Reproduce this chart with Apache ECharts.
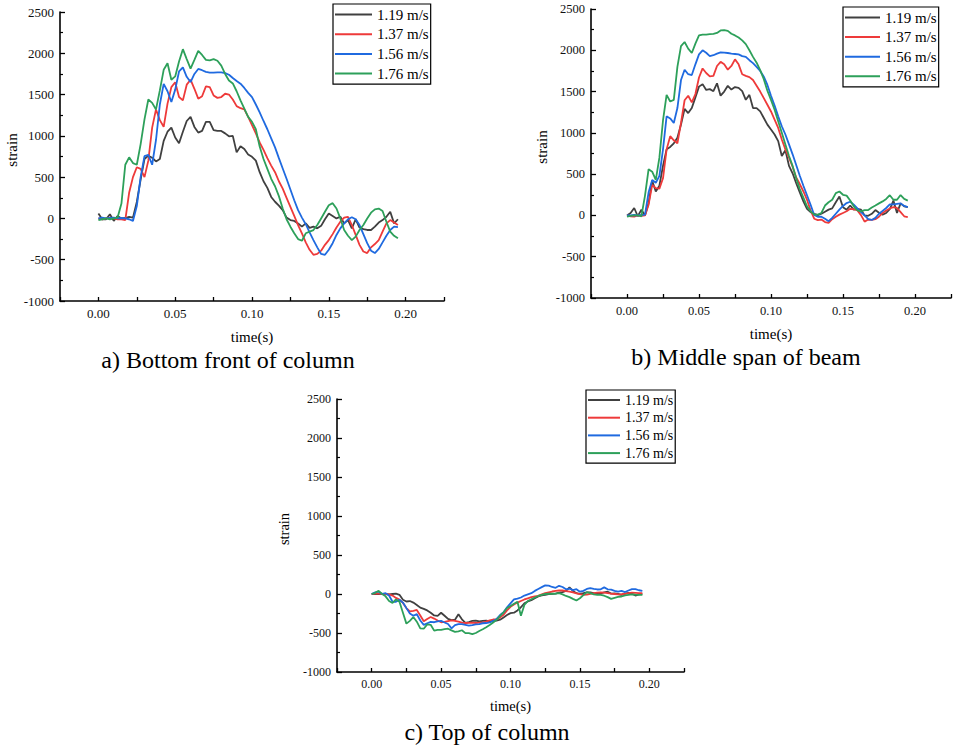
<!DOCTYPE html>
<html>
<head>
<meta charset="utf-8">
<title>strain curves</title>
<script src="https://cdn.jsdelivr.net/npm/echarts@6/dist/echarts.min.js"></script>
<style>
  html, body { margin: 0; padding: 0; background: #fff; }
  #main { width: 954px; height: 746px; }
</style>
</head>
<body>
<div id="main"></div>
<script>
// time (s), shared by every curve
const time = [0, 0.0025, 0.005, 0.0075, 0.01, 0.0125, 0.015, 0.0175, 0.02, 0.0225,
  0.025, 0.0275, 0.03, 0.0325, 0.035, 0.0375, 0.04, 0.0425, 0.045, 0.0475,
  0.05, 0.0525, 0.055, 0.0575, 0.06, 0.0625, 0.065, 0.0675, 0.07, 0.0725,
  0.075, 0.0775, 0.08, 0.0825, 0.085, 0.0875, 0.09, 0.0925, 0.095, 0.0975,
  0.1, 0.1025, 0.105, 0.1075, 0.11, 0.1125, 0.115, 0.1175, 0.12, 0.1225,
  0.125, 0.1275, 0.13, 0.1325, 0.135, 0.1375, 0.14, 0.1425, 0.145, 0.1475,
  0.15, 0.1525, 0.155, 0.1575, 0.16, 0.1625, 0.165, 0.1675, 0.17, 0.1725,
  0.175, 0.1775, 0.18, 0.1825, 0.185, 0.1875, 0.19, 0.1925, 0.195]

const speeds = ['1.19 m/s', '1.37 m/s', '1.56 m/s', '1.76 m/s']

// a) bottom front of column
const a119 = [60, -10, -10, 50, -30, 30, 0, 5, 20, 10,
  200, 470, 720, 760, 735, 690, 720, 940, 1050, 1100,
  980, 910, 1050, 1180, 1230, 1108, 1040, 1060, 1170, 1170,
  1070, 1060, 1060, 1030, 995, 1000, 800, 875, 840, 775,
  746, 700, 560, 450, 370, 260, 202, 155, 100, 10,
  -20, -30, -60, -100, -60, -115, -100, -120, -90, -10,
  60, 30, 0, 20, -60, -20, -120, -10, -110, -130,
  -140, -140, -100, -50, -20, 20, 80, -60, -10]
const a137 = [0, -10, 0, 10, 0, -10, -10, -20, 310, 500,
  620, 600, 500, 700, 1100, 1320, 1190, 1110, 1390, 1590,
  1650, 1470, 1430, 1620, 1680, 1570, 1450, 1480, 1600, 1590,
  1490, 1460, 1470, 1510, 1500, 1440, 1360, 1335, 1320, 1230,
  1130, 1030, 920, 830, 730, 640, 560, 450, 360, 250,
  140, 30, -80, -180, -290, -380, -440, -430, -390, -320,
  -262, -190, -110, -40, 10, 20, -80, -200, -320, -400,
  -420, -350, -310, -262, -160, -60, -20, -50, -80]
const a156 = [0, 10, 0, 5, 10, 0, 5, 0, -10, -30,
  150, 500, 754, 770, 650, 950, 1380, 1630, 1540, 1410,
  1560, 1780, 1830, 1715, 1652, 1750, 1810, 1795, 1775, 1765,
  1765, 1770, 1770, 1760, 1740, 1700, 1665, 1632, 1580, 1520,
  1470, 1380, 1285, 1180, 1080, 970, 860, 730, 605, 480,
  350, 220, 100, 10, -70, -170, -262, -350, -430, -440,
  -380, -300, -200, -120, -60, -10, 15, -10, -80, -190,
  -300, -390, -420, -370, -290, -210, -140, -100, -105]
const a176 = [-20, -10, 0, -10, 0, 10, 180, 650, 740, 670,
  650, 900, 1200, 1440, 1400, 1320, 1550, 1800, 1880, 1680,
  1720, 1900, 2050, 1930, 1815, 1920, 2030, 1980, 1920, 1915,
  1930, 1910, 1850, 1750, 1670, 1635, 1540, 1430, 1330, 1230,
  1170, 1080, 870, 720, 600, 480, 390, 270, 120, -10,
  -100, -180, -250, -270, -180, -160, -141, -80, 0, 80,
  160, 185, 120, 0, -140, -210, -262, -220, -140, -80,
  0, 70, 110, 120, 90, -40, -160, -210, -240]

// b) middle span of beam
const b119 = [0, 30, 90, -10, 70, 0, 150, 420, 290, 360,
  600, 800, 830, 874, 940, 1100, 1290, 1240, 1300, 1430,
  1560, 1590, 1520, 1530, 1505, 1600, 1450, 1500, 1570, 1525,
  1555, 1545, 1505, 1400, 1460, 1300, 1300, 1260, 1180, 1100,
  1040, 980, 900, 720, 790, 600, 510, 390, 280, 170,
  80, 40, 20, 4, 20, 45, 70, 85, 160, 230,
  100, 70, 120, 70, 80, 70, 0, -5, 20, 65,
  32, 10, 30, 75, 180, 30, 146, 110, 100]
const b137 = [0, -10, -15, 0, -5, 0, 130, 370, 330, 325,
  450, 800, 960, 910, 874, 1120, 1395, 1450, 1370, 1470,
  1670, 1780, 1725, 1684, 1690, 1810, 1860, 1830, 1765, 1810,
  1890, 1830, 1710, 1690, 1675, 1640, 1570, 1500, 1420, 1340,
  1259, 1160, 1060, 920, 800, 700, 590, 460, 380, 290,
  190, 60, -40, -57, -50, -80, -90, -45, -16, 10,
  30, 50, 80, 75, 60, 4, -75, -50, -55, -45,
  -16, 30, 60, 85, 100, 90, 40, -10, -20]
const b156 = [0, 0, 5, 0, 5, 10, 280, 430, 395, 480,
  800, 1200, 1175, 1120, 1300, 1640, 1765, 1710, 1700, 1830,
  1950, 1999, 1970, 1930, 1940, 1960, 1975, 1972, 1967, 1960,
  1955, 1950, 1930, 1920, 1880, 1845, 1800, 1750, 1680, 1580,
  1450, 1330, 1200, 1080, 980, 860, 740, 610, 480, 360,
  245, 130, 5, -16, -16, -40, -70, -30, 20, 70,
  115, 150, 166, 130, 85, 40, 0, -45, -55, -30,
  20, 55, 90, 134, 134, 140, 146, 115, 100]
const b176 = [-15, -5, 0, 0, -10, 240, 560, 530, 430, 700,
  1150, 1460, 1380, 1400, 1800, 2050, 2100, 2020, 1967, 2080,
  2180, 2190, 2190, 2195, 2200, 2210, 2240, 2245, 2235, 2200,
  2180, 2155, 2120, 2075, 2000, 1920, 1850, 1760, 1650, 1510,
  1400, 1280, 1140, 1000, 860, 720, 600, 450, 320, 215,
  110, 50, 10, 10, 30, 120, 160, 190, 270, 290,
  250, 240, 180, 110, 60, 50, 65, 65, 95, 120,
  146, 170, 200, 245, 190, 190, 247, 200, 180]

// c) top of column
const c119 = [0, 0, 0, 0, 0, -5, 0, 5, -10, -74,
  -96, -90, -110, -140, -175, -190, -210, -240, -275, -280,
  -240, -279, -320, -335, -330, -260, -325, -370, -360, -345,
  -340, -350, -345, -340, -352, -345, -340, -330, -300, -270,
  -245, -240, -210, -170, -120, -95, -80, -53, -30, -18,
  -10, 0, 2, 5, 18, 25, 40, 85, 40, 11,
  3, 10, 20, 20, 10, 3, 8, 20, 30, 5,
  8, 0, -10, 5, 15, 3, -20, -5, 3]
const c137 = [0, 5, 5, 0, 0, -5, -20, -50, -72, -115,
  -181, -224, -215, -205, -275, -350, -320, -295, -315, -340,
  -362, -357, -348, -339, -345, -355, -366, -372, -370, -368,
  -372, -368, -363, -353, -338, -327, -322, -300, -265, -210,
  -165, -135, -110, -90, -70, -55, -40, -30, -23, -5,
  11, 22, 32, 40, 45, 45, 38, 30, 20, 8,
  -2, -10, -8, 3, 11, 18, 20, 18, 12, 5,
  0, -6, -3, 3, 10, 18, 15, 11, 11]
const c156 = [0, 20, 30, 0, 10, -20, -100, -100, -74, -110,
  -181, -250, -279, -258, -340, -395, -375, -358, -362, -350,
  -345, -365, -385, -440, -400, -385, -385, -395, -405, -400,
  -390, -385, -375, -372, -365, -345, -320, -270, -235, -170,
  -120, -70, -60, -45, -20, -5, 10, 40, 65, 88,
  110, 108, 90, 80, 105, 90, 60, 70, 50, 62,
  30, 40, 65, 75, 65, 58, 60, 85, 60, 55,
  40, 30, 40, 25, 45, 62, 62, 48, 40]
const c176 = [0, 15, 40, 0, -30, -90, -115, -70, -100, -240,
  -380, -345, -295, -355, -440, -445, -390, -395, -470, -460,
  -460, -450, -445, -467, -485, -480, -465, -502, -502, -515,
  -500, -475, -452, -425, -397, -365, -330, -280, -235, -180,
  -155, -125, -100, -280, -140, -90, -68, -45, -25, -10,
  0, 3, 3, 6, 10, -5, -25, -40, -62, -83,
  -55, -15, 25, 10, -5, -10, -12, -22, -40, -62,
  -50, -38, -32, -18, -10, -5, -8, -10, -10]

const colors = ['#404040', '#ee3a3a', '#1f6ae0', '#2da05a']
const serif = 'Liberation Serif, Times New Roman, serif'

// layout of the three panels
const panels = [
  {
    caption: 'a) Bottom front of column',
    values: [a119, a137, a156, a176],
    grid: { left: 60, top: 12, width: 384, height: 289 },
    tickSize: 13,
    nameSize: 15,
    xNameGap: 28,
    yNameGap: 40,
    legend: { left: 333, top: 4, fontSize: 15, itemWidth: 37, itemGap: 4.7 },
    captionPos: [228, 360]
  },
  {
    caption: 'b) Middle span of beam',
    values: [b119, b137, b156, b176],
    grid: { left: 591, top: 9, width: 361, height: 289 },
    tickSize: 12.5,
    nameSize: 15,
    xNameGap: 28,
    yNameGap: 42,
    legend: { left: 843, top: 7, fontSize: 15, itemWidth: 35, itemGap: 4.6 },
    captionPos: [746, 357]
  },
  {
    caption: 'c) Top of column',
    values: [c119, c137, c156, c176],
    grid: { left: 337, top: 399, width: 347, height: 273 },
    tickSize: 12,
    nameSize: 14.5,
    xNameGap: 26,
    yNameGap: 46,
    legend: { left: 586, top: 390, fontSize: 14, itemWidth: 32, itemGap: 3.7 },
    captionPos: [487, 732]
  }
]

// only 0.00, 0.05 ... 0.20 carry a label
function timeLabel (v) {
  const k = Math.round(v / 0.025)
  if (k % 2 !== 0 || k < 0 || k > 8) {
    return ''
  }
  return v.toFixed(2)
}

const option = {
  animation: false,
  backgroundColor: '#fff',
  grid: [],
  xAxis: [],
  yAxis: [],
  legend: [],
  series: [],
  graphic: []
}

panels.forEach((p, idx) => {
  option.grid.push(p.grid)
  option.xAxis.push({
    type: 'value',
    gridIndex: idx,
    min: -0.025,
    max: 0.225,
    interval: 0.025,
    name: 'time(s)',
    nameLocation: 'middle',
    nameGap: p.xNameGap,
    nameTextStyle: { fontFamily: serif, fontSize: p.nameSize, color: '#000' },
    axisLine: { onZero: false, lineStyle: { color: '#000', width: 1.6 } },
    axisTick: { inside: true, length: 4, lineStyle: { color: '#000', width: 1.3 } },
    axisLabel: {
      formatter: timeLabel,
      fontFamily: serif,
      fontSize: p.tickSize,
      color: '#111',
      margin: 6,
      hideOverlap: false
    },
    splitLine: { show: false }
  })
  option.yAxis.push({
    type: 'value',
    gridIndex: idx,
    min: -1000,
    max: 2500,
    interval: 500,
    name: 'strain',
    nameLocation: 'middle',
    nameGap: p.yNameGap,
    nameTextStyle: { fontFamily: serif, fontSize: p.nameSize, color: '#000', padding: [0, 0, 0, 13] },
    axisLine: { show: true, onZero: false, lineStyle: { color: '#000', width: 1.6 } },
    axisTick: { show: true, inside: true, length: 5, lineStyle: { color: '#000', width: 1.3 } },
    minorTick: { show: true, splitNumber: 2, length: 3, lineStyle: { color: '#000', width: 1.2 } },
    axisLabel: {
      formatter: (v) => String(v),
      fontFamily: serif,
      fontSize: p.tickSize,
      color: '#111',
      margin: 6
    },
    splitLine: { show: false },
    minorSplitLine: { show: false }
  })
  option.legend.push({
    data: speeds,
    orient: 'vertical',
    left: p.legend.left,
    top: p.legend.top,
    padding: [3, 2, 3, 2],
    icon: 'rect',
    itemWidth: p.legend.itemWidth,
    itemHeight: 2,
    itemGap: p.legend.itemGap,
    borderColor: '#000',
    borderWidth: 1.2,
    borderRadius: 0,
    selectedMode: false,
    textStyle: { fontFamily: serif, fontSize: p.legend.fontSize, lineHeight: 14, color: '#000' }
  })
  speeds.forEach((name, k) => {
    option.series.push({
      name: name,
      type: 'line',
      xAxisIndex: idx,
      yAxisIndex: idx,
      symbol: 'none',
      color: colors[k],
      lineStyle: { width: 1.8, color: colors[k] },
      data: time.map((t, i) => [t, p.values[k][i]])
    })
  })
  option.graphic.push({
    type: 'text',
    x: p.captionPos[0],
    y: p.captionPos[1],
    style: {
      text: p.caption,
      fontFamily: serif,
      fontSize: 24,
      fill: '#000',
      align: 'center',
      verticalAlign: 'middle'
    }
  })
})

const chart = echarts.init(document.getElementById('main'), null, { renderer: 'svg' })
chart.setOption(option)
</script>
</body>
</html>
